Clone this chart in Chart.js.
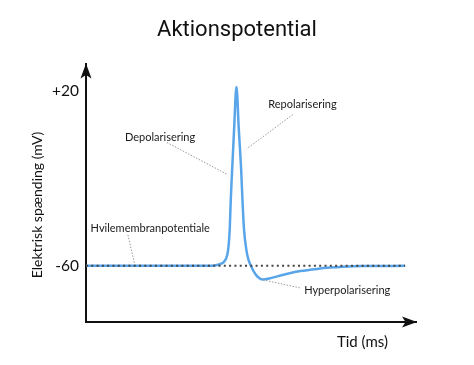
<!DOCTYPE html>
<html>
<head>
<meta charset="utf-8">
<script src="https://cdn.jsdelivr.net/npm/chart.js@4.4.1/dist/chart.umd.min.js"></script>
<style>
  html, body { margin: 0; padding: 0; background: #fff; }
  #wrap { width: 474px; height: 365px; }
</style>
</head>
<body>
<div id="wrap"><canvas id="apChart" width="474" height="365"></canvas></div>
<script>
// tid (ms) og membranpotential (mV)
const timeMs = [0, 3.47, 3.89, 4.10, 4.19, 4.28, 4.32, 4.356, 4.386, 4.422, 4.489, 4.559,
  4.629, 4.702, 4.742, 4.787, 4.863, 4.93, 5.015, 5.10, 5.20, 5.34, 5.55, 5.85, 6.2, 6.5,
  7.0, 7.4, 7.8, 8.4, 9.67];
const potential = [-60, -60, -59.8, -59, -58, -55, -51, -43, -30, -18, 3, 22,
  3, -16, -30, -43, -53, -57.5, -60.5, -63, -65, -66.2, -65.8, -64.6, -63.3, -62.4,
  -61.4, -60.8, -60.4, -60.1, -60];

// hvilepotentiale (stiplet linje)
const restTime = [0, 9.67];
const restLevel = [-60, -60];

const yTicks = [-60, 20];

// tekster med stiplede henvisningslinjer: [tekst, x, y, fra-x, fra-y, til-x, til-y]
const labels = [
  ["Repolarisering", 5.52, 14.0, 6.27, 9.4, 4.87, -6.3],
  ["Depolarisering", 1.18, -1.1, 2.45, -3.4, 4.30, -18.2],
  ["Hvilemembranpotentiale", 0.14, -43.0, 1.27, -45.8, 1.48, -59.5],
  ["Hyperpolarisering", 6.61, -71.5, 6.48, -70.1, 5.36, -66.4],
];

const toPoints = (xs, ys) => xs.map((x, i) => ({ x: x, y: ys[i] }));

const extras = {
  id: "extras",
  afterDraw(chart) {
    const { ctx, chartArea, scales } = chart;
    const xs = scales.x, ys = scales.y;
    ctx.save();

    // pilespidser
    ctx.fillStyle = "#111";
    const left = chartArea.left, top = chartArea.top;
    ctx.beginPath();
    ctx.moveTo(left, top - 1);
    ctx.lineTo(left + 5.5, top + 14);
    ctx.lineTo(left, top + 10.5);
    ctx.lineTo(left - 5.5, top + 14);
    ctx.closePath();
    ctx.fill();
    const right = chartArea.right, bottom = chartArea.bottom;
    ctx.beginPath();
    ctx.moveTo(right + 1, bottom);
    ctx.lineTo(right - 14, bottom - 5.5);
    ctx.lineTo(right - 10.5, bottom);
    ctx.lineTo(right - 14, bottom + 5.5);
    ctx.closePath();
    ctx.fill();

    // henvisninger
    labels.forEach(([text, tx, ty, x1, y1, x2, y2]) => {
      ctx.strokeStyle = "#999";
      ctx.lineWidth = 1;
      ctx.setLineDash([1.5, 1.5]);
      ctx.beginPath();
      ctx.moveTo(xs.getPixelForValue(x1), ys.getPixelForValue(y1));
      ctx.lineTo(xs.getPixelForValue(x2), ys.getPixelForValue(y2));
      ctx.stroke();
      ctx.setLineDash([]);
      ctx.fillStyle = "#1a1a1a";
      ctx.font = "11px Lato";
      ctx.textAlign = "left";
      ctx.textBaseline = "middle";
      ctx.fillText(text, xs.getPixelForValue(tx), ys.getPixelForValue(ty));
    });

    // aksetitler
    ctx.fillStyle = "#111";
    ctx.font = "15px Lato";
    ctx.textAlign = "right";
    ctx.textBaseline = "middle";
    ctx.fillText("Tid (ms)", right - 28, bottom + 20);
    ctx.font = "14px Lato";
    ctx.translate(37, 205);
    ctx.rotate(-Math.PI / 2);
    ctx.textAlign = "center";
    ctx.fillText("Elektrisk spænding (mV)", 0, 0);
    ctx.restore();
  },
};

new Chart(document.getElementById("apChart"), {
  type: "line",
  data: {
    datasets: [
      {
        data: toPoints(restTime, restLevel),
        borderColor: "#444",
        borderWidth: 2,
        borderDash: [2, 3.3],
        pointRadius: 0,
        fill: false,
      },
      {
        data: toPoints(timeMs, potential),
        borderColor: "#58a5e9",
        borderWidth: 2.5,
        pointRadius: 0,
        cubicInterpolationMode: "monotone",
        fill: false,
      },
    ],
  },
  options: {
    responsive: false,
    animation: false,
    layout: { padding: 0 },
    plugins: {
      legend: { display: false },
      tooltip: { enabled: false },
      title: {
        display: true,
        text: "Aktionspotential",
        color: "#111",
        font: { family: "Roboto", size: 22, weight: "normal" },
        padding: { top: 17, bottom: 21 },
      },
    },
    scales: {
      x: {
        type: "linear",
        min: 0,
        max: 10,
        grid: { display: false, drawTicks: false },
        ticks: { display: false },
        border: { color: "#111", width: 2 },
        afterFit: (s) => { s.height = 43; },
      },
      y: {
        min: -85.75,
        max: 32.4,
        grid: { display: false, drawTicks: false },
        border: { color: "#111", width: 2 },
        afterBuildTicks: (s) => { s.ticks = yTicks.map((v) => ({ value: v })); },
        ticks: {
          padding: 7,
          color: "#111",
          font: { family: "Lato", size: 15.5 },
          callback: (v) => (v > 0 ? "+" + v : "" + v),
        },
        afterFit: (s) => { s.width = 86; },
      },
      // tom akse til højre, kun for at give plads
      yRight: {
        position: "right",
        grid: { display: false, drawTicks: false },
        ticks: { display: false },
        border: { display: false },
        afterFit: (s) => { s.width = 58; },
      },
    },
  },
  plugins: [extras],
});
</script>
</body>
</html>
